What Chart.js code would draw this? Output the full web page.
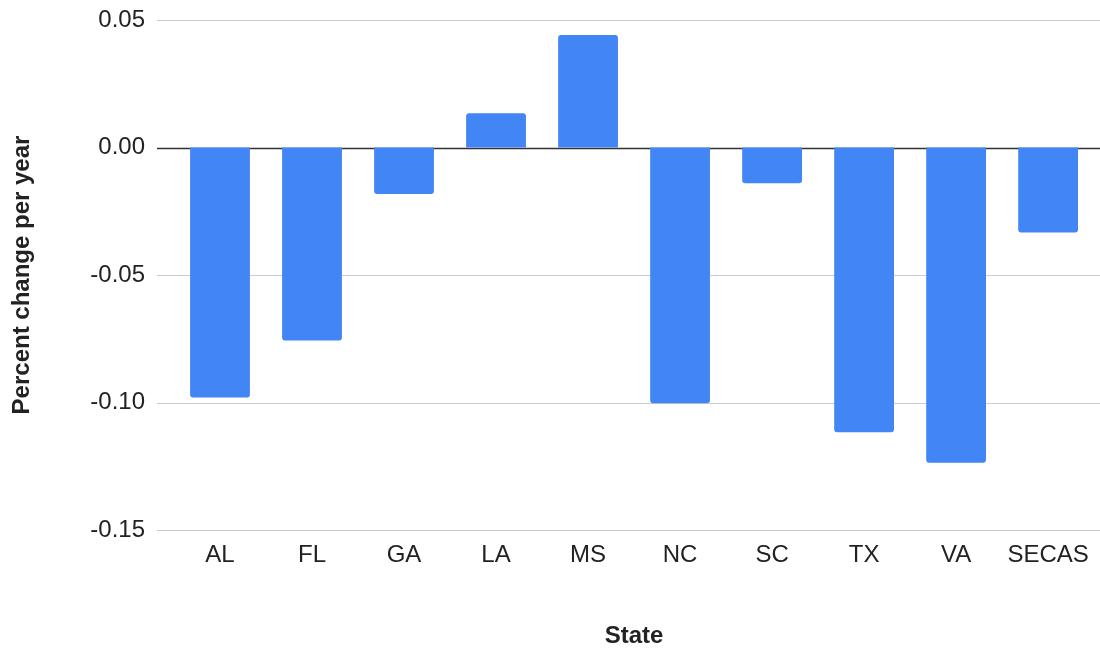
<!DOCTYPE html>
<html>
<head>
<meta charset="utf-8">
<script src="https://cdn.jsdelivr.net/npm/chart.js@4"></script>
<style>
    html, body { margin: 0; padding: 0; background: #fff; }
    #wrap { width: 1100px; height: 648px; }
</style>
</head>
<body>
<div id="wrap"><canvas id="stateChart" width="1100" height="648"></canvas></div>
<script>
const states = ['AL', 'FL', 'GA', 'LA', 'MS', 'NC', 'SC', 'TX', 'VA', 'SECAS'];
const changePerYear = [-0.098, -0.0757, -0.0182, 0.0134, 0.0441, -0.1003, -0.014, -0.1117, -0.1236, -0.0333];
const yTicks = [-0.15, -0.10, -0.05, 0, 0.05];

const FONT = 'Arial, "Liberation Sans", sans-serif';

// gridlines in the reference run a bit past the category band on both sides
const gridPlugin = {
    id: 'wideGrid',
    beforeDatasetsDraw(chart) {
        const ctx = chart.ctx;
        const y = chart.scales.y;
        ctx.save();
        yTicks.forEach(v => {
            const py = Math.round(y.getPixelForValue(v)) + 0.5;
            ctx.beginPath();
            ctx.strokeStyle = v === 0 ? '#333333' : '#cccccc';
            ctx.lineWidth = v === 0 ? 1.5 : 1.2;
            ctx.moveTo(157, py);
            ctx.lineTo(1100, py);
            ctx.stroke();
        });
        ctx.restore();
    }
};

new Chart(document.getElementById('stateChart').getContext('2d'), {
    type: 'bar',
    data: {
        labels: states,
        datasets: [{
            label: 'Percent change per year',
            data: changePerYear,
            backgroundColor: '#4285f4',
            borderRadius: 3,
            borderSkipped: 'start',
            barPercentage: 0.65,
            categoryPercentage: 1.0
        }]
    },
    options: {
        responsive: false,
        animation: false,
        layout: { padding: { top: 20, right: 4, left: 0, bottom: 0 } },
        plugins: { legend: { display: false }, tooltip: { enabled: false } },
        scales: {
            x: {
                grid: { display: false, drawTicks: false },
                border: { display: false },
                ticks: { color: '#222', font: { family: FONT, size: 24 }, padding: 11, maxRotation: 0 },
                title: {
                    display: true, text: 'State', color: '#222',
                    font: { family: FONT, size: 24, weight: 'bold' },
                    padding: { top: 0, bottom: -3 }
                },
                afterFit(scale) { scale.height = 118; }
            },
            y: {
                min: -0.15,
                max: 0.05,
                afterBuildTicks(scale) { scale.ticks = yTicks.map(v => ({ value: v })); },
                // tick marks hidden, their length only pushes the labels left
                grid: { display: false, drawTicks: true, tickLength: 29 },
                border: { display: false },
                ticks: {
                    color: '#222', font: { family: FONT, size: 24 }, padding: 0,
                    callback: v => v.toFixed(2)
                },
                title: {
                    display: true, text: 'Percent change per year', color: '#222',
                    font: { family: FONT, size: 24, weight: 'bold' },
                    padding: { top: 8, bottom: 0 }
                },
                afterFit(scale) { scale.width = 174; }
            }
        }
    },
    plugins: [gridPlugin]
});
</script>
</body>
</html>
